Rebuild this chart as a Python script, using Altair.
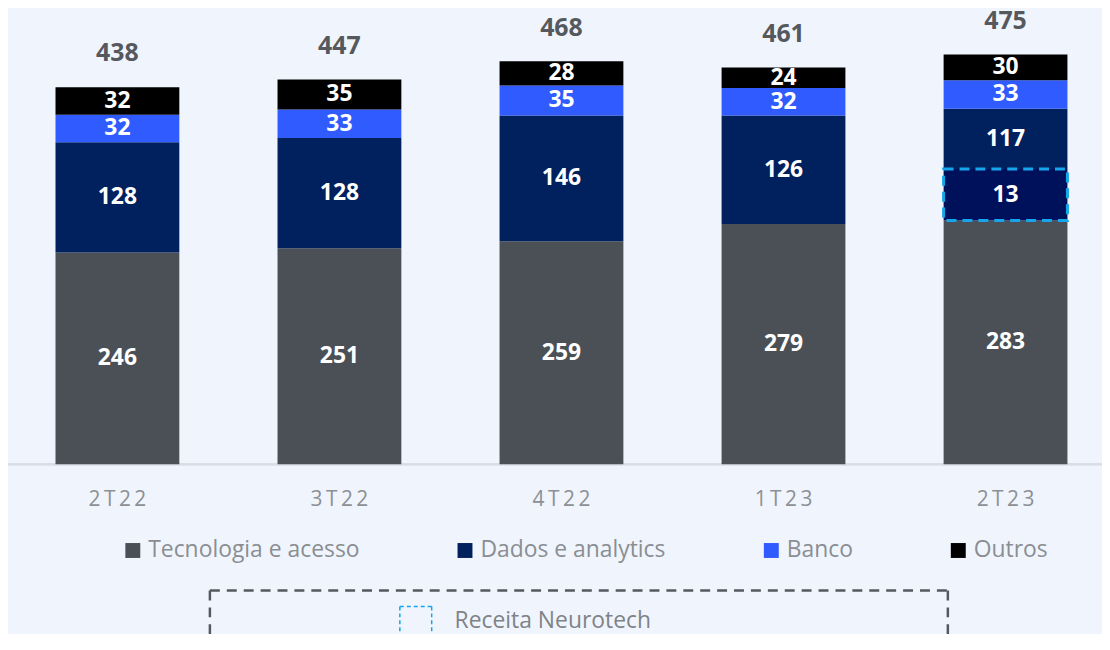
import altair as alt
import pandas as pd

# ---------------- data ----------------
quarters = ["2T22", "3T22", "4T22", "1T23", "2T23"]
tecnologia = [246, 251, 259, 279, 283]
dados = [128, 128, 146, 126, 117]
banco = [32, 33, 35, 32, 33]
outros = [32, 35, 28, 24, 30]
neurotech = [0, 0, 0, 0, 13]           # label values
# drawn heights as they appear in the picture (the Neurotech box is not to scale)
dados_drawn = [128, 128, 146, 126, 70]
neurotech_drawn = [0, 0, 0, 0, 60]
totals = [438, 447, 468, 461, 475]

categories = ["Tecnologia e acesso", "Neurotech", "Dados e analytics", "Banco", "Outros"]
legend_cats = ["Tecnologia e acesso", "Dados e analytics", "Banco", "Outros"]
colors = ["#4b5056", "#00115b", "#00205e", "#2f5bff", "#000000"]

rows = []
for i, q in enumerate(quarters):
    series = [
        ("Tecnologia e acesso", tecnologia[i], tecnologia[i]),
        ("Neurotech", neurotech[i], neurotech_drawn[i]),
        ("Dados e analytics", dados[i], dados_drawn[i]),
        ("Banco", banco[i], banco[i]),
        ("Outros", outros[i], outros[i]),
    ]
    for k, (cat, lab, drawn) in enumerate(series):
        if drawn > 0:
            rows.append({"quarter": q, "category": cat, "label": lab, "drawn": drawn, "order": k})
df = pd.DataFrame(rows)
tot_df = pd.DataFrame({"quarter": quarters, "total": totals})
qlab_df = pd.DataFrame({"quarter": quarters, "spaced": ["\u2009".join(q) for q in quarters]})

# ---------------- layout ----------------
W, H = 1100, 626
k = 0.8655                      # px per unit
base_px = 457                   # baseline, from top of plot
yscale = alt.Scale(domain=[-(H - base_px) / k, base_px / k], nice=False, zero=False)
xenc = alt.X("quarter:N", sort=quarters, axis=None,
             scale=alt.Scale(paddingInner=0.4423, paddingOuter=0.1848, align=0.5788))

FONT = "Open Sans"

stacked = alt.Chart(df).transform_stack(
    stack="drawn", groupby=["quarter"],
    sort=[alt.SortField(field="order", order="ascending")],
    as_=["y0", "y1"],
).transform_calculate(mid="(datum.y0 + datum.y1) / 2")

bars = stacked.mark_bar().encode(
    x=xenc,
    y=alt.Y("y0:Q", scale=yscale, axis=None),
    y2="y1:Q",
    color=alt.Color(
        "category:N",
        scale=alt.Scale(domain=categories, range=colors),
        legend=alt.Legend(
            values=legend_cats, title=None, orient="none", legendX=114, legendY=532,
            direction="horizontal", symbolType="square", symbolSize=225,
            symbolStrokeWidth=0, labelFontSize=23, labelColor="#8a8e93",
            labelFont=FONT, labelOffset=4, columnPadding=94, padding=0,
            labelLimit=500,
        ),
    ),
)

neuro_box = stacked.transform_filter("datum.category == 'Neurotech'").mark_bar(
    fillOpacity=0, stroke="#14a5ea", strokeWidth=3, strokeDash=[10, 6]
).encode(x=xenc, y=alt.Y("y0:Q", scale=yscale), y2="y1:Q")

seg_labels = stacked.mark_text(
    color="white", fontWeight="bold", fontSize=23, font=FONT, baseline="middle"
).encode(x=xenc, y=alt.Y("mid:Q", scale=yscale), text="label:Q")

total_labels = alt.Chart(tot_df).mark_text(
    color="#55595e", fontWeight="bold", fontSize=25, font=FONT, baseline="middle", dy=-34
).encode(x=xenc, y=alt.Y("total:Q", scale=yscale), text="total:Q")

baseline = alt.Chart(tot_df).mark_rule(
    color="#dadee6", strokeWidth=2
).encode(y=alt.value(base_px), x=alt.value(-1), x2=alt.value(W))

x_labels = alt.Chart(qlab_df).mark_text(
    fontSize=21, color="#8c9095", font=FONT, baseline="middle"
).encode(x=xenc, y=alt.value(493), text="spaced:N")


def hline(x1, x2, y, color, sw, dash):
    return alt.Chart(tot_df.head(1)).mark_rule(color=color, strokeWidth=sw, strokeDash=dash).encode(
        x=alt.value(x1), x2=alt.value(x2), y=alt.value(y))


def vline(x, y1, y2, color, sw, dash):
    return alt.Chart(tot_df.head(1)).mark_rule(color=color, strokeWidth=sw, strokeDash=dash).encode(
        x=alt.value(x), y=alt.value(y1), y2=alt.value(y2))


BOXC = "#55595f"
box_layers = [
    hline(203, 945, 584, BOXC, 2.5, [10, 7]),
    vline(203, 584, 640, BOXC, 2.5, [10, 7]),
    vline(945, 584, 640, BOXC, 2.5, [10, 7]),
]
CY = "#14a5ea"
sym_layers = [
    hline(394, 426, 600, CY, 1.5, [4, 3]),
    hline(394, 426, 629, CY, 1.5, [4, 3]),
    vline(394, 600, 629, CY, 1.5, [4, 3]),
    vline(426, 600, 629, CY, 1.5, [4, 3]),
]

neuro_text = alt.Chart(pd.DataFrame({"t": ["Receita Neurotech"]})).mark_text(
    align="left", baseline="middle", fontSize=23, color="#7f8388", font=FONT
).encode(x=alt.value(449), y=alt.value(615), text="t:N")

chart = alt.layer(
    baseline, bars, neuro_box, seg_labels, total_labels, x_labels,
    *box_layers, *sym_layers, neuro_text
).properties(
    width=W, height=H, padding=0, autosize=alt.AutoSizeParams(type="none"),
    background="#f0f5fd",
).configure_view(strokeWidth=0)

chart.save("out.html", embed_options={"renderer": "svg", "actions": False})
